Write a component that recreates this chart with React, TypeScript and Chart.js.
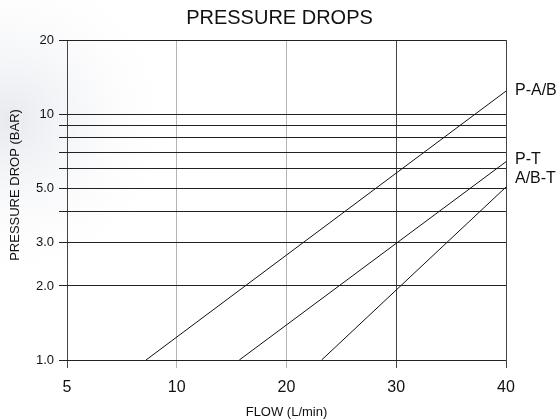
import React, { useEffect, useRef } from 'react';
import { Chart, registerables } from 'chart.js';

Chart.register(...registerables);

const seriesNames = ['P-A/B', 'P-T', 'A/B-T'];
const pabFlow = [7.2, 40];
const pabDrop = [1, 12.4];
const ptFlow = [15.7, 40];
const ptDrop = [1, 6.4];
const abtFlow = [23.2, 40];
const abtDrop = [1, 5.05];
const xTicks = [0, 10, 20, 30, 40];
const xTickLabels = ['5', '10', '20', '30', '40'];
const yTicks = [1, 2, 3, 4, 5, 6, 7, 8, 9, 10, 20];
const yTickLabels = ['1.0', '2.0', '3.0', '', '5.0', '', '', '', '', '10', '20'];
const yAxisTitle = 'PRESSURE DROP (BAR)';
const labelDy = [0, -2, -8];

const FONT = '"Liberation Sans", Arial, Helvetica, sans-serif';

const toPts = (xs: number[], ys: number[]) => xs.map((x, i) => ({ x, y: ys[i] }));

const endLabels = {
  id: 'endLabels',
  afterDatasetsDraw(chart: any) {
    const ctx = chart.ctx;
    ctx.save();
    ctx.font = `16px ${FONT}`;
    ctx.fillStyle = '#111';
    ctx.textBaseline = 'middle';
    ctx.textAlign = 'left';
    chart.data.datasets.forEach((ds: any, i: number) => {
      const meta = chart.getDatasetMeta(i);
      const pt = meta.data[meta.data.length - 1];
      if (pt) ctx.fillText(ds.label, pt.x + 9, pt.y + labelDy[i]);
    });
    // y axis title
    const area = chart.chartArea;
    ctx.font = `13px ${FONT}`;
    ctx.textAlign = 'center';
    ctx.translate(15.5, (area.top + area.bottom) / 2 - 15);
    ctx.rotate(-Math.PI / 2);
    ctx.fillText(yAxisTitle, 0, 0);
    ctx.restore();
  },
};

const bgPlugin = {
  id: 'bg',
  beforeDraw(chart: any) {
    const ctx = chart.ctx;
    ctx.save();
    ctx.fillStyle = '#ffffff';
    ctx.fillRect(0, 0, chart.width, chart.height);
    const g = ctx.createRadialGradient(10, 120, 0, 10, 120, 170);
    g.addColorStop(0, 'rgba(225,228,235,0.8)');
    g.addColorStop(1, 'rgba(255,255,255,0)');
    ctx.fillStyle = g;
    ctx.fillRect(0, 0, chart.width, chart.height);
    ctx.restore();
  },
};

export default function App() {
  const ref = useRef<HTMLCanvasElement | null>(null);
  useEffect(() => {
    if (!ref.current) return;
    Chart.defaults.font.family = FONT;
    const lineDs = (label: string, xs: number[], ys: number[]) => ({
      label,
      data: toPts(xs, ys),
      showLine: true,
      borderColor: '#111',
      borderWidth: 1,
      pointRadius: 0,
      fill: false,
      tension: 0,
    });
    const chart = new Chart(ref.current, {
      type: 'scatter',
      data: {
        datasets: [
          lineDs(seriesNames[0], pabFlow, pabDrop),
          lineDs(seriesNames[1], ptFlow, ptDrop),
          lineDs(seriesNames[2], abtFlow, abtDrop),
        ],
      },
      options: {
        responsive: false,
        animation: false,
        layout: { padding: 0 },
        plugins: {
          legend: { display: false },
          tooltip: { enabled: false },
          title: {
            display: true,
            text: 'PRESSURE DROPS',
            color: '#111',
            font: { size: 20, weight: 'normal', family: FONT },
            padding: { top: 6, bottom: 10 },
          },
        },
        scales: {
          x: {
            type: 'linear',
            min: 0,
            max: 40,
            afterBuildTicks: (s: any) => {
              s.ticks = xTicks.map((v) => ({ value: v }));
            },
            afterFit: (s: any) => {
              s.height = 60;
            },
            ticks: {
              autoSkip: false,
              maxRotation: 0,
              color: '#111',
              padding: 10,
              font: { size: 16, family: FONT },
              callback: (_v: any, i: number) => xTickLabels[i],
            },
            grid: {
              color: (c: any) => (c.tick && (c.tick.value === 10 || c.tick.value === 20) ? '#b4b4b4' : '#444'),
              lineWidth: 1,
              tickLength: 8,
            },
            border: { display: false },
            title: {
              display: true,
              text: 'FLOW (L/min)',
              color: '#111',
              font: { size: 13, family: FONT },
              padding: { top: 4, bottom: 0 },
            },
          },
          y: {
            type: 'logarithmic',
            min: 1,
            max: 20,
            afterBuildTicks: (s: any) => {
              s.ticks = yTicks.map((v) => ({ value: v }));
            },
            afterFit: (s: any) => {
              s.width = 67;
            },
            ticks: {
              autoSkip: false,
              color: '#111',
              padding: 5,
              font: { size: 13, family: FONT },
              callback: (_v: any, i: number) => yTickLabels[i],
            },
            grid: {
              color: '#222',
              lineWidth: 1,
              tickLength: 8,
            },
            border: { display: false },
            title: { display: false },
          },
          y2: {
            type: 'linear',
            position: 'right',
            display: true,
            afterFit: (s: any) => {
              s.width = 53;
            },
            ticks: { display: false },
            grid: { display: false },
            border: { display: false },
          },
        },
      } as any,
      plugins: [bgPlugin, endLabels],
    });
    return () => chart.destroy();
  }, []);
  return (
    <div style={{ position: 'absolute', left: 0, top: 0, width: 559, height: 420 }}>
      <canvas ref={ref} width={559} height={420} />
    </div>
  );
}
